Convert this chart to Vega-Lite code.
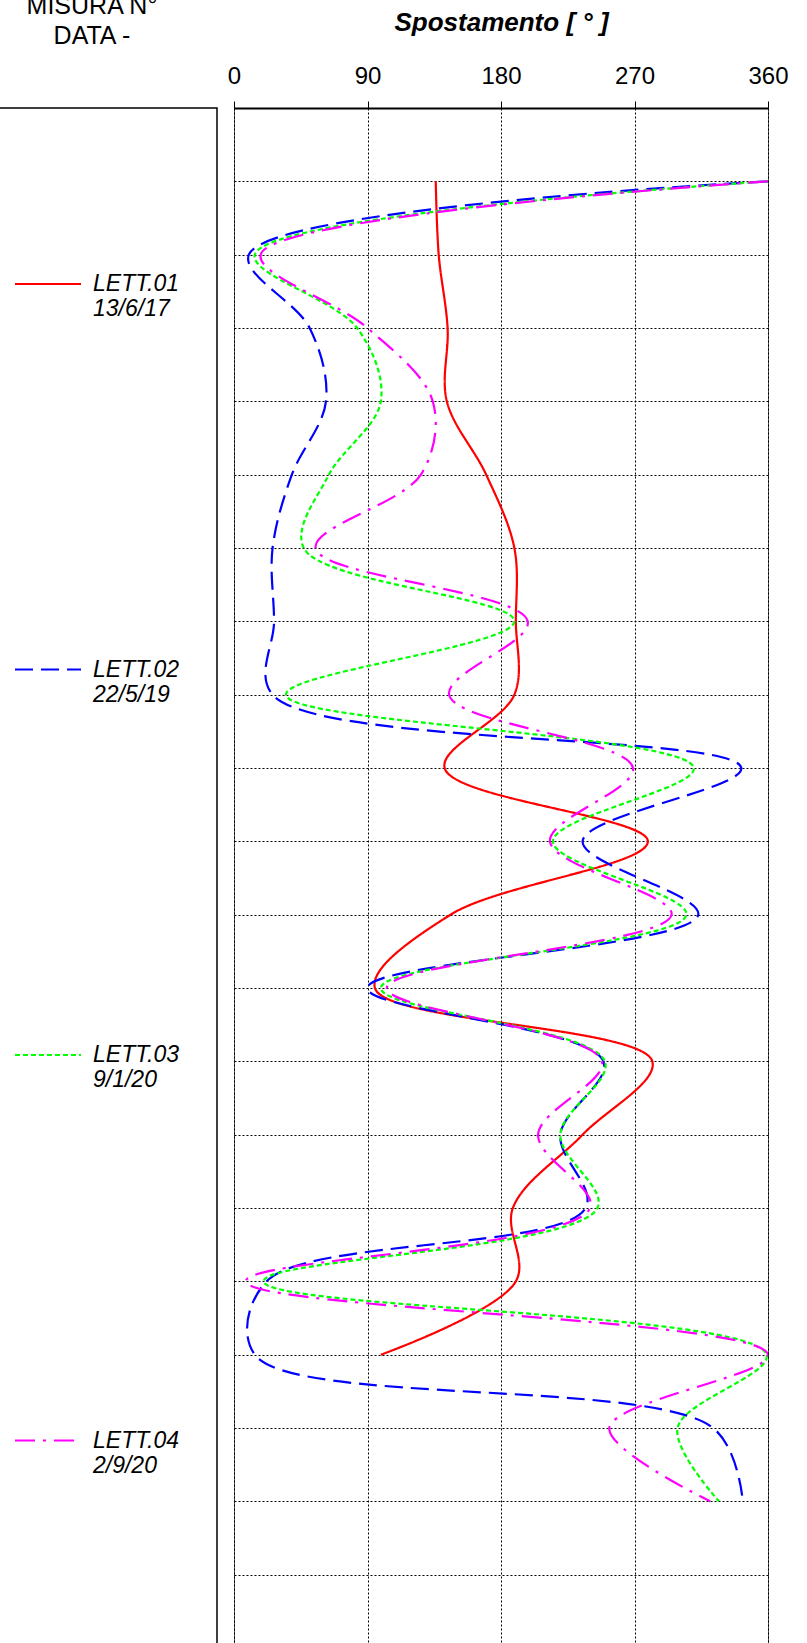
{
  "$schema": "https://vega.github.io/schema/vega-lite/v6.json",
  "padding": {"top": -7, "left": -2, "right": 0, "bottom": 0},
  "config": {"font": "Liberation Sans", "view": {"stroke": null}},
  "bounds": "flush",
  "spacing": 17,
  "datasets": {
    "legend": [
      {"series": "LETT.01 13/6/17"},
      {"series": "LETT.02 22/5/19"},
      {"series": "LETT.03 9/1/20"},
      {"series": "LETT.04 2/9/20"}
    ],
    "readings": [
      {"series": "LETT.01 13/6/17", "depth": 1, "deg": 136},
      {"series": "LETT.01 13/6/17", "depth": 2, "deg": 138},
      {"series": "LETT.01 13/6/17", "depth": 3, "deg": 144},
      {"series": "LETT.01 13/6/17", "depth": 4, "deg": 143.5},
      {"series": "LETT.01 13/6/17", "depth": 5, "deg": 170},
      {"series": "LETT.01 13/6/17", "depth": 6, "deg": 189},
      {"series": "LETT.01 13/6/17", "depth": 7, "deg": 190},
      {"series": "LETT.01 13/6/17", "depth": 8, "deg": 189},
      {"series": "LETT.01 13/6/17", "depth": 9, "deg": 142},
      {"series": "LETT.01 13/6/17", "depth": 10, "deg": 279},
      {"series": "LETT.01 13/6/17", "depth": 11, "deg": 146},
      {"series": "LETT.01 13/6/17", "depth": 12, "deg": 95},
      {"series": "LETT.01 13/6/17", "depth": 13, "deg": 282},
      {"series": "LETT.01 13/6/17", "depth": 14, "deg": 235},
      {"series": "LETT.01 13/6/17", "depth": 15, "deg": 188},
      {"series": "LETT.01 13/6/17", "depth": 16, "deg": 190},
      {"series": "LETT.01 13/6/17", "depth": 17, "deg": 99},
      {"series": "LETT.02 22/5/19", "depth": 1, "deg": 360},
      {"series": "LETT.02 22/5/19", "depth": 2, "deg": 10},
      {"series": "LETT.02 22/5/19", "depth": 3, "deg": 51},
      {"series": "LETT.02 22/5/19", "depth": 4, "deg": 62},
      {"series": "LETT.02 22/5/19", "depth": 5, "deg": 39},
      {"series": "LETT.02 22/5/19", "depth": 6, "deg": 26},
      {"series": "LETT.02 22/5/19", "depth": 7, "deg": 27},
      {"series": "LETT.02 22/5/19", "depth": 8, "deg": 26},
      {"series": "LETT.02 22/5/19", "depth": 9, "deg": 342},
      {"series": "LETT.02 22/5/19", "depth": 10, "deg": 235},
      {"series": "LETT.02 22/5/19", "depth": 11, "deg": 313},
      {"series": "LETT.02 22/5/19", "depth": 12, "deg": 90},
      {"series": "LETT.02 22/5/19", "depth": 13, "deg": 249},
      {"series": "LETT.02 22/5/19", "depth": 14, "deg": 220},
      {"series": "LETT.02 22/5/19", "depth": 15, "deg": 237},
      {"series": "LETT.02 22/5/19", "depth": 16, "deg": 22},
      {"series": "LETT.02 22/5/19", "depth": 17, "deg": 14},
      {"series": "LETT.02 22/5/19", "depth": 18, "deg": 323},
      {"series": "LETT.02 22/5/19", "depth": 19, "deg": 343},
      {"series": "LETT.03 9/1/20", "depth": 1, "deg": 360},
      {"series": "LETT.03 9/1/20", "depth": 2, "deg": 14},
      {"series": "LETT.03 9/1/20", "depth": 3, "deg": 83},
      {"series": "LETT.03 9/1/20", "depth": 4, "deg": 99},
      {"series": "LETT.03 9/1/20", "depth": 5, "deg": 64},
      {"series": "LETT.03 9/1/20", "depth": 6, "deg": 47},
      {"series": "LETT.03 9/1/20", "depth": 7, "deg": 189},
      {"series": "LETT.03 9/1/20", "depth": 8, "deg": 35},
      {"series": "LETT.03 9/1/20", "depth": 9, "deg": 310},
      {"series": "LETT.03 9/1/20", "depth": 10, "deg": 215},
      {"series": "LETT.03 9/1/20", "depth": 11, "deg": 305},
      {"series": "LETT.03 9/1/20", "depth": 12, "deg": 99},
      {"series": "LETT.03 9/1/20", "depth": 13, "deg": 250},
      {"series": "LETT.03 9/1/20", "depth": 14, "deg": 220},
      {"series": "LETT.03 9/1/20", "depth": 15, "deg": 245},
      {"series": "LETT.03 9/1/20", "depth": 16, "deg": 20},
      {"series": "LETT.03 9/1/20", "depth": 17, "deg": 359},
      {"series": "LETT.03 9/1/20", "depth": 18, "deg": 299},
      {"series": "LETT.03 9/1/20", "depth": 19, "deg": 327},
      {"series": "LETT.04 2/9/20", "depth": 1, "deg": 360},
      {"series": "LETT.04 2/9/20", "depth": 2, "deg": 18},
      {"series": "LETT.04 2/9/20", "depth": 3, "deg": 90},
      {"series": "LETT.04 2/9/20", "depth": 4, "deg": 134},
      {"series": "LETT.04 2/9/20", "depth": 5, "deg": 126},
      {"series": "LETT.04 2/9/20", "depth": 6, "deg": 55},
      {"series": "LETT.04 2/9/20", "depth": 7, "deg": 198},
      {"series": "LETT.04 2/9/20", "depth": 8, "deg": 145},
      {"series": "LETT.04 2/9/20", "depth": 9, "deg": 269},
      {"series": "LETT.04 2/9/20", "depth": 10, "deg": 213},
      {"series": "LETT.04 2/9/20", "depth": 11, "deg": 295},
      {"series": "LETT.04 2/9/20", "depth": 12, "deg": 103},
      {"series": "LETT.04 2/9/20", "depth": 13, "deg": 248},
      {"series": "LETT.04 2/9/20", "depth": 14, "deg": 205},
      {"series": "LETT.04 2/9/20", "depth": 15, "deg": 240},
      {"series": "LETT.04 2/9/20", "depth": 16, "deg": 8},
      {"series": "LETT.04 2/9/20", "depth": 17, "deg": 360},
      {"series": "LETT.04 2/9/20", "depth": 18, "deg": 253},
      {"series": "LETT.04 2/9/20", "depth": 19, "deg": 321}
    ]
  },
  "resolve": {
    "scale": {"color": "independent", "strokeDash": "independent"},
    "legend": {"color": "independent", "strokeDash": "independent"}
  },
  "hconcat": [
    {
      "width": 218,
      "height": 1540,
      "view": {"stroke": "black", "strokeWidth": 1.5},
      "title": {
        "text": ["MISURA N°", "DATA -"],
        "fontSize": 25,
        "fontWeight": "normal",
        "font": "Liberation Sans",
        "color": "black",
        "anchor": "middle",
        "lineHeight": 30,
        "offset": 59,
        "dx": -16
      },
      "data": {"name": "legend"},
      "mark": {"type": "line", "opacity": 0},
      "encoding": {
        "color": {
          "field": "series",
          "type": "nominal",
          "scale": {
            "domain": ["LETT.01 13/6/17", "LETT.02 22/5/19", "LETT.03 9/1/20", "LETT.04 2/9/20"],
            "range": ["#ff0000", "#0000ff", "#00ff00", "#ff00ff"]
          },
          "legend": {
            "orient": "none",
            "legendX": 15,
            "legendY": 142,
            "title": null,
            "padding": 0,
            "symbolType": "stroke",
            "symbolSize": 4356,
            "symbolStrokeWidth": 2,
            "symbolOpacity": 1,
            "labelFont": "Liberation Sans",
            "labelFontStyle": "italic",
            "labelFontSize": 23,
            "labelColor": "black",
            "labelOffset": 11,
            "labelLimit": 0,
            "labelExpr": "split(datum.label, ' ')",
            "rowPadding": 314.5
          }
        },
        "strokeDash": {
          "field": "series",
          "type": "nominal",
          "scale": {
            "domain": ["LETT.01 13/6/17", "LETT.02 22/5/19", "LETT.03 9/1/20", "LETT.04 2/9/20"],
            "range": [[1, 0], [18, 8], [5, 3], [20, 8, 3, 8]]
          },
          "legend": null
        }
      }
    },
    {
      "width": 534,
      "height": 1540,
      "view": {"stroke": "#555", "strokeWidth": 1},
      "data": {"name": "readings"},
      "mark": {"type": "line", "interpolate": "catmull-rom", "strokeWidth": 2.2, "clip": true},
      "encoding": {
        "x": {
          "field": "deg",
          "type": "quantitative",
          "scale": {"domain": [0, 360], "nice": false, "zero": false},
          "axis": {
            "orient": "top",
            "values": [0, 90, 180, 270, 360],
            "title": "Spostamento [ ° ]",
            "titleFont": "Liberation Sans",
            "titleFontSize": 26,
            "titleFontWeight": "bold",
            "titleFontStyle": "italic",
            "titleColor": "black",
            "titlePadding": 29,
            "labelFont": "Liberation Sans",
            "labelFontSize": 24,
            "labelColor": "black",
            "labelPadding": 13,
            "labelFlush": false,
            "tickSize": 7,
            "tickColor": "black",
            "tickWidth": 1,
            "domainColor": "black",
            "domainWidth": 2,
            "grid": true,
            "gridColor": "black",
            "gridDash": [2, 2],
            "gridWidth": 1,
            "gridOpacity": 1
          }
        },
        "y": {
          "field": "depth",
          "type": "quantitative",
          "scale": {"domain": [0, 21], "reverse": true, "nice": false, "zero": false},
          "axis": {
            "values": [1, 2, 3, 4, 5, 6, 7, 8, 9, 10, 11, 12, 13, 14, 15, 16, 17, 18, 19, 20, 21],
            "labels": false,
            "ticks": false,
            "domain": false,
            "title": null,
            "grid": true,
            "gridColor": "black",
            "gridDash": [2, 2],
            "gridWidth": 1,
            "gridOpacity": 1
          }
        },
        "order": {"field": "depth", "type": "quantitative"},
        "color": {
          "field": "series",
          "type": "nominal",
          "scale": {
            "domain": ["LETT.01 13/6/17", "LETT.02 22/5/19", "LETT.03 9/1/20", "LETT.04 2/9/20"],
            "range": ["#ff0000", "#0000ff", "#00ff00", "#ff00ff"]
          },
          "legend": null
        },
        "strokeDash": {
          "field": "series",
          "type": "nominal",
          "scale": {
            "domain": ["LETT.01 13/6/17", "LETT.02 22/5/19", "LETT.03 9/1/20", "LETT.04 2/9/20"],
            "range": [[1, 0], [18, 8], [5, 3], [20, 8, 3, 8]]
          },
          "legend": null
        }
      }
    }
  ]
}
